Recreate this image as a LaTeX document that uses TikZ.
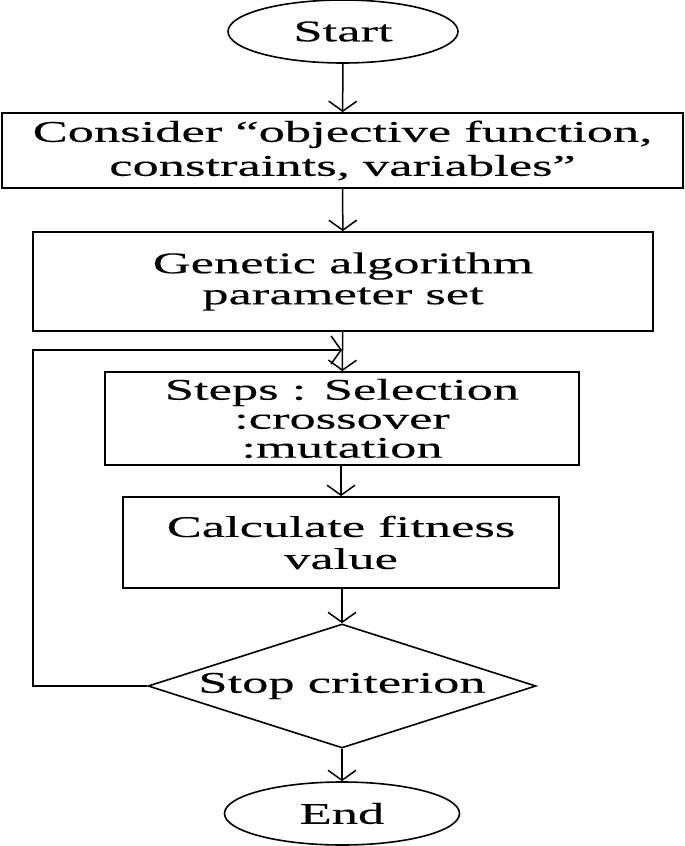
\documentclass[tikz,border=0pt]{standalone}
\usepackage{fontspec}
\setmainfont[FakeStretch=1.75, FakeBold=0.3]{Liberation Serif}
\usepackage{tikz}
\usetikzlibrary{arrows.meta, shapes.geometric, positioning, calc}

\begin{document}
\begin{tikzpicture}[x=0.5pt, y=-0.5pt,
    term/.style={ellipse, draw, line width=0.8pt, inner sep=0pt, font=\fontsize{15}{16}\selectfont},
    procbox/.style={rectangle, draw, line width=0.9pt, inner sep=0pt, align=center, font=\fontsize{15}{17}\selectfont},
    decide/.style={diamond, draw, line width=0.8pt, inner sep=0pt, shape aspect=3.5, font=\fontsize{15}{16}\selectfont},
    flow/.style={draw, line width=0.75pt, -{Straight Barb[length=5pt, width=14pt]}}
  ]
  \useasboundingbox (0,0) rectangle (685,846);
  % Terminals
  \node[term, minimum width=115pt, minimum height=31.5pt] (start) at (343,31.5) {Start};
  \node[term, minimum width=117.5pt, minimum height=31.5pt] (end) at (342,813.5) {End};
  % Process boxes
  \node[procbox, minimum width=340.5pt, minimum height=37.5pt] (consider) at (342.5,150.5)
    {Consider ``objective function,\\ constraints, variables''};
  \node[procbox, minimum width=310pt, minimum height=49.5pt, font=\fontsize{15}{15.5}\selectfont] (param) at (343,281.5)
    {Genetic algorithm\\ parameter set};
  \node[procbox, minimum width=237pt, minimum height=46.5pt, font=\fontsize{15}{14.5}\selectfont] (steps) at (342,418.5)
    {Steps : Selection\\ :crossover\\ :mutation};
  \node[procbox, minimum width=218pt, minimum height=45.5pt, font=\fontsize{15}{16}\selectfont] (fitness) at (341,542.5)
    {Calculate fitness\\ value};
  % Decision
  \node[decide, minimum width=194pt, minimum height=62pt] (stop) at (342,686) {Stop criterion};
  \coordinate (merge) at (342,350);
  % Connectors
  \draw[flow] (start) -- (consider);
  \draw[flow] (consider) -- (param);
  \draw[flow] (param) -- (steps);
  \draw[flow] (steps.south -| fitness.north) -- (fitness);
  \draw[flow] (fitness.south -| stop.north) -- (stop);
  \draw[flow] (stop) -- (end);
  % Loop back
  \draw[flow] (stop.west) -- ++(-114,0) |- (merge);
\end{tikzpicture}
\end{document}
